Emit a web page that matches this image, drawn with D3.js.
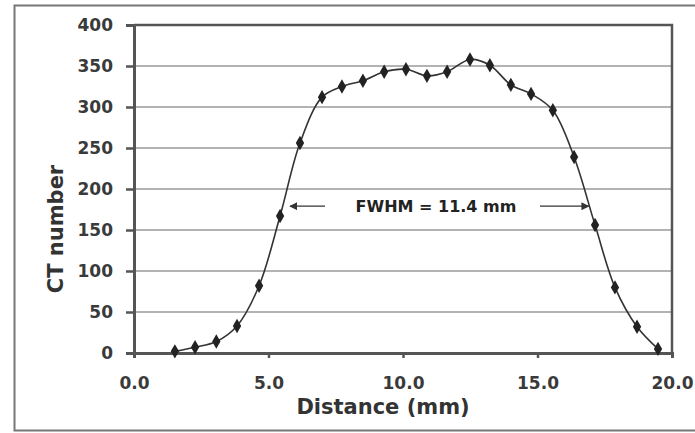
<!DOCTYPE html>
<html>
<head>
<meta charset="utf-8">
<script src="https://cdnjs.cloudflare.com/ajax/libs/d3/7.8.5/d3.min.js"></script>
<style>
  body { margin: 0; background: #fff; }
  svg { display: block; }
  text { font-family: "DejaVu Sans", Verdana, sans-serif; font-weight: bold; }
</style>
</head>
<body>
<svg width="695" height="433"></svg>
<script>
// profile values
var distance = [1.52, 2.27, 3.06, 3.83, 4.65, 5.43, 6.17, 6.99, 7.73, 8.51, 9.3, 10.11,
                10.89, 11.64, 12.49, 13.23, 14.01, 14.76, 15.57, 16.36, 17.14, 17.88, 18.7, 19.48];
var ctNumber = [2, 7, 14, 33, 82, 167, 256, 312, 325, 332, 343, 346,
                338, 343, 358, 351, 327, 316, 296, 239, 156, 80, 32, 5];
var xTicks = [0, 5, 10, 15, 20];
var yTicks = [0, 50, 100, 150, 200, 250, 300, 350, 400];
var fwhmLabel = "FWHM = 11.4 mm";
var fwhmFrom = 5.8, fwhmTo = 16.9, fwhmLevel = 179;

var points = distance.map(function (d, i) { return { x: d, y: ctNumber[i] }; });

var svg = d3.select("svg");

// outer frame
svg.append("rect")
    .attr("x", 14.5).attr("y", 5.5)
    .attr("width", 685).attr("height", 425)
    .attr("fill", "none")
    .attr("stroke", "#777")
    .attr("stroke-width", 2);

var plotLeft = 134, plotRight = 672, plotTop = 25, plotBottom = 353;

var x = d3.scaleLinear().domain([0, 20]).range([plotLeft, plotRight]);
var y = d3.scaleLinear().domain([0, 400]).range([plotBottom, plotTop]);

// gridlines
svg.append("g")
    .selectAll("line")
    .data(yTicks.filter(function (t) { return t > 0; }))
    .enter()
    .append("line")
    .attr("x1", plotLeft).attr("x2", plotRight)
    .attr("y1", function (d) { return y(d); })
    .attr("y2", function (d) { return y(d); })
    .attr("stroke", "#9a9a9a")
    .attr("stroke-width", 1.6);

// plot border (top and right)
svg.append("path")
    .attr("d", "M" + plotLeft + "," + plotTop + "H" + plotRight + "V" + plotBottom)
    .attr("fill", "none")
    .attr("stroke", "#555")
    .attr("stroke-width", 2.5);

// y axis
var yAxis = svg.append("g")
    .attr("transform", "translate(" + plotLeft + ",0)")
    .call(d3.axisLeft(y).tickValues(yTicks).tickSize(8).tickPadding(13));
yAxis.select(".domain").attr("stroke", "#555").attr("stroke-width", 3);
yAxis.selectAll(".tick line").attr("stroke", "#555").attr("stroke-width", 2.5);
yAxis.selectAll(".tick text")
    .attr("fill", "#3a3a3a")
    .style("font-size", "17px");

// x axis
var xAxis = svg.append("g")
    .attr("transform", "translate(0," + plotBottom + ")")
    .call(d3.axisBottom(x).tickValues(xTicks).tickSize(5).tickPadding(19)
        .tickFormat(d3.format(".1f")));
xAxis.select(".domain").attr("stroke", "#555").attr("stroke-width", 3);
xAxis.selectAll(".tick line").attr("stroke", "#555").attr("stroke-width", 2.5);
xAxis.selectAll(".tick text")
    .attr("fill", "#3a3a3a")
    .style("font-size", "17px");

// axis titles
svg.append("text")
    .attr("x", 383).attr("y", 414)
    .attr("text-anchor", "middle")
    .attr("fill", "#333")
    .style("font-size", "21px")
    .text("Distance (mm)");

svg.append("text")
    .attr("transform", "translate(63,229) rotate(-90)")
    .attr("text-anchor", "middle")
    .attr("fill", "#333")
    .style("font-size", "21px")
    .text("CT number");

// curve
var line = d3.line()
    .x(function (d) { return x(d.x); })
    .y(function (d) { return y(d.y); })
    .curve(d3.curveCatmullRom.alpha(0.5));

svg.append("path")
    .datum(points)
    .attr("d", line)
    .attr("fill", "none")
    .attr("stroke", "#333")
    .attr("stroke-width", 1.6);

// diamond markers
svg.append("g")
    .selectAll("path")
    .data(points)
    .enter()
    .append("path")
    .attr("transform", function (d) { return "translate(" + x(d.x) + "," + y(d.y) + ")"; })
    .attr("d", d3.symbol().type(d3.symbolDiamond).size(60))
    .attr("fill", "#222");

// FWHM annotation
svg.append("defs").append("marker")
    .attr("id", "head")
    .attr("viewBox", "0 0 10 10")
    .attr("refX", 9).attr("refY", 5)
    .attr("markerWidth", 8).attr("markerHeight", 8)
    .attr("markerUnits", "userSpaceOnUse")
    .attr("orient", "auto")
    .append("path")
    .attr("d", "M0,0L10,5L0,10Z")
    .attr("fill", "#333");

var ya = y(fwhmLevel);
svg.append("line")
    .attr("x1", 325).attr("x2", x(fwhmFrom))
    .attr("y1", ya).attr("y2", ya)
    .attr("stroke", "#333").attr("stroke-width", 1.3)
    .attr("marker-end", "url(#head)");
svg.append("line")
    .attr("x1", 540).attr("x2", x(fwhmTo))
    .attr("y1", ya).attr("y2", ya)
    .attr("stroke", "#333").attr("stroke-width", 1.3)
    .attr("marker-end", "url(#head)");
svg.append("text")
    .attr("x", 436).attr("y", ya + 6)
    .attr("text-anchor", "middle")
    .attr("fill", "#222")
    .style("font-size", "16px")
    .text(fwhmLabel);
</script>
</body>
</html>
